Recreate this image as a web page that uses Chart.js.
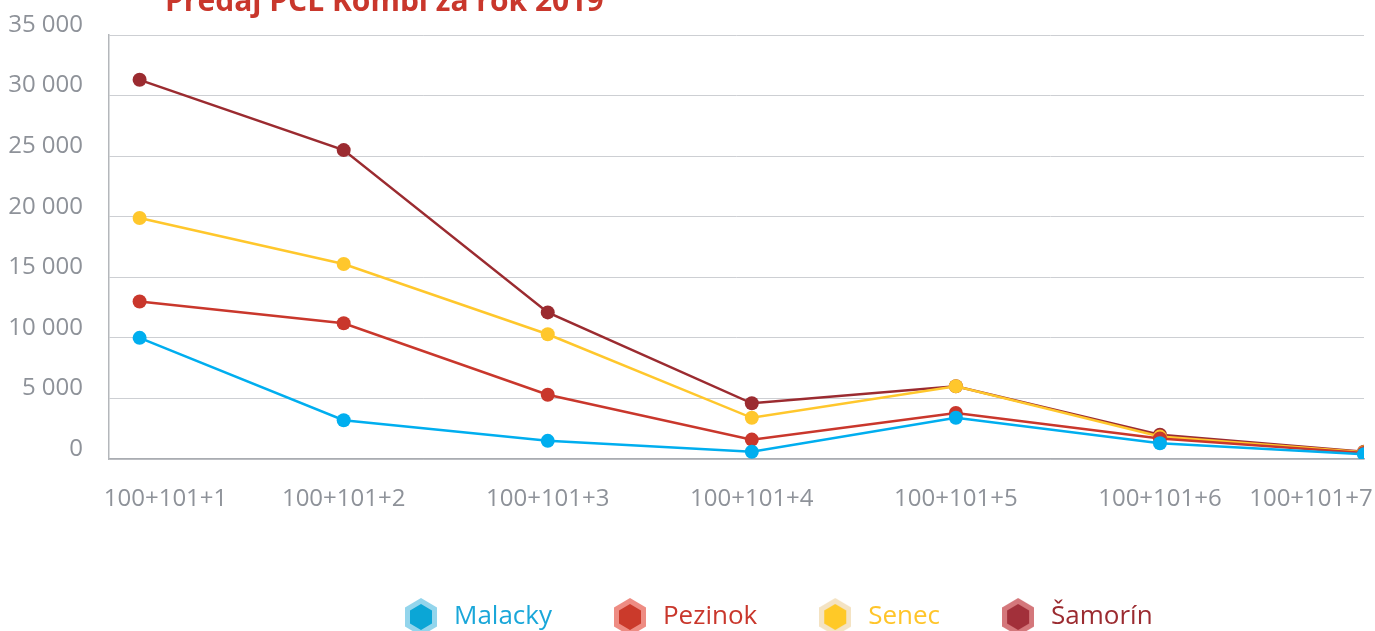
<!DOCTYPE html>
<html><head><meta charset="utf-8">
<script src="https://cdn.jsdelivr.net/npm/chart.js@4/dist/chart.umd.min.js"></script>
<style>
html,body{margin:0;padding:0;background:#fff;overflow:hidden;}
#wrap{position:relative;width:1375px;height:640px;}
#title{position:absolute;left:165px;top:-15px;font:bold 30px "Open Sans",sans-serif;color:#C9372C;line-height:30px;white-space:nowrap;z-index:2;}
</style></head><body>
<div id="wrap"><div id="title">Predaj PCL Kombi za rok 2019</div><canvas id="c"></canvas></div>
<script>
// ---- data ----
const categories = ["100+101+1","100+101+2","100+101+3","100+101+4","100+101+5","100+101+6","100+101+7"];
const seriesNames = ["Malacky","Pezinok","Senec","Šamorín"];
const malacky = [10000, 3200, 1500, 600, 3400, 1300, 400];
const pezinok = [13000, 11200, 5300, 1600, 3800, 1700, 500];
const senec   = [19900, 16100, 10300, 3400, 6000, 1850, 550];
const samorin = [31300, 25500, 12100, 4600, 6000, 2000, 600];
const yTickValues = [0, 5000, 10000, 15000, 20000, 25000, 30000, 35000];

// ---- styles ----
const lineColors = ["#00AEEF", "#C9372C", "#FFC72C", "#9B2B30"];
const textColors = ["#1AA7D9", "#C9372C", "#FFC52A", "#9B2B30"];
const iconOuter = ["#93D5EC", "#EE8C83", "#F4E3C3", "#D4777B"];
const iconInner = ["#0BA6D6", "#CB3A2B", "#FFC927", "#A2303A"];
const gray = "#8E9299";
const labelNudge = [0.127, 0, 0, 0, 0, 0, -0.26];
const legendStartX = 401;
const legendPad = 58;

function hexIcon(outer, inner) {
  const c = document.createElement('canvas');
  c.width = 32; c.height = 38;
  const g = c.getContext('2d');
  function hex(l, t, w, h, col) {
    g.beginPath();
    g.moveTo(l + w / 2, t);
    g.lineTo(l + w, t + h / 4);
    g.lineTo(l + w, t + h * 3 / 4);
    g.lineTo(l + w / 2, t + h);
    g.lineTo(l, t + h * 3 / 4);
    g.lineTo(l, t + h / 4);
    g.closePath();
    g.fillStyle = col; g.fill();
  }
  hex(0, 0, 32, 38, outer);
  hex(5, 6, 22, 26, inner);
  return c;
}
const icons = iconOuter.map((o, i) => hexIcon(o, iconInner[i]));

const fmt = v => String(v).replace(/\B(?=(\d{3})+(?!\d))/g, ' ');
const allSeries = [malacky, pezinok, senec, samorin];

const legendShift = {
  id: 'legendShift',
  afterLayout(chart) {
    const lg = chart.legend;
    if (!lg) return;
    const d = (legendStartX - legendPad) - lg.left;
    lg.left += d; lg.right += d;
  }
};

new Chart(document.getElementById('c'), {
  type: 'line',
  plugins: [legendShift],
  data: {
    datasets: allSeries.map((vals, i) => ({
      label: seriesNames[i],
      data: vals.map((v, j) => ({x: j, y: v})),
      borderColor: lineColors[i],
      backgroundColor: lineColors[i],
      borderWidth: 2.5,
      pointRadius: 7,
      pointBorderWidth: 0,
      pointHoverRadius: 7,
      tension: 0
    }))
  },
  options: {
    responsive: true,
    maintainAspectRatio: false,
    animation: false,
    devicePixelRatio: 1,
    layout: {padding: {top: 35, right: 11, left: 0, bottom: 0}},
    plugins: {
      title: {display: false},
      tooltip: {enabled: false},
      legend: {
        position: 'bottom',
        align: 'start',
        labels: {
          usePointStyle: true,
          pointStyleWidth: 40,
          padding: legendPad,
          font: {family: '"Open Sans", sans-serif', size: 26},
          generateLabels(chart) {
            const items = Chart.defaults.plugins.legend.labels.generateLabels(chart);
            items.forEach((it, i) => { it.pointStyle = icons[i]; it.fontColor = textColors[i]; });
            return items;
          }
        }
      }
    },
    scales: {
      x: {
        type: 'linear',
        min: -0.15,
        max: 6,
        grid: {display: false, drawTicks: false},
        border: {display: true, color: '#A9ACB1', width: 1.5},
        afterBuildTicks(scale) {
          scale.ticks = categories.map((c, i) => ({value: i + labelNudge[i]}));
        },
        afterFit(scale) { scale.height = 87; scale.paddingLeft = 0; scale.paddingRight = 0; },
        ticks: {
          autoSkip: false,
          maxRotation: 0,
          padding: 26,
          color: gray,
          font: {family: '"Open Sans", sans-serif', size: 24},
          callback(value, index) { return categories[index]; }
        }
      },
      y: {
        min: 0,
        max: 35000,
        afterBuildTicks(scale) { scale.ticks = yTickValues.map(v => ({value: v})); },
        afterFit(scale) { scale.width = 109; scale.paddingTop = 0; scale.paddingBottom = 0; },
        grid: {color: '#CDCFD3', lineWidth: 1, drawTicks: false},
        border: {display: true, color: '#B4B7BB', width: 1.5},
        ticks: {
          padding: 26,
          labelOffset: -10,
          color: gray,
          font: {family: '"Open Sans", sans-serif', size: 24},
          callback: v => fmt(v)
        }
      }
    }
  }
});
</script>
</body></html>
